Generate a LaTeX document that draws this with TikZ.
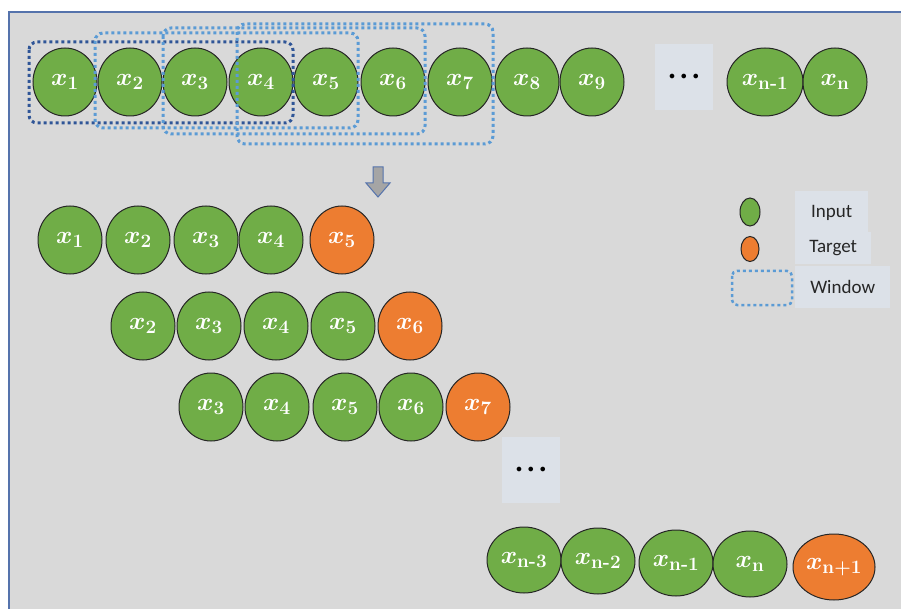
\documentclass[tikz,border=0pt]{standalone}
\usepackage{amsmath,bm}
\usepackage{fontspec}
\newfontfamily\legfont{Carlito}
\usetikzlibrary{shapes.geometric}

\definecolor{bggray}{HTML}{D9D9D9}
\definecolor{frameblue}{HTML}{5573AC}
\definecolor{cellgreen}{HTML}{70AD47}
\definecolor{cellorange}{HTML}{ED7D31}
\definecolor{windark}{HTML}{2F5597}
\definecolor{winlight}{HTML}{5B9BD5}
\definecolor{gapblue}{HTML}{DCE1E8}
\definecolor{arrowgray}{HTML}{A5A5A5}

\newcommand{\xv}[1]{$\bm{x}_{\text{\bfseries #1}}$}

\tikzset{
  cell/.style={ellipse, draw=black!85, line width=1pt, fill=cellgreen, text=white,
    inner sep=0pt, minimum width=64pt, minimum height=68pt,
    font=\fontsize{27}{30}\selectfont\boldmath},
  tgt/.style={cell, fill=cellorange},
  win/.style={draw=winlight, line width=3pt, dash pattern=on 3pt off 3pt, rounded corners=8pt},
  gap/.style={fill=gapblue, minimum width=58pt, minimum height=66pt, inner sep=0pt},
  legbox/.style={fill=gapblue, anchor=west, inner sep=0pt, text=black!85,
    font=\legfont\fontsize{19}{22}\selectfont}
}

\begin{document}
\begin{tikzpicture}[x=1pt,y=-1pt]
\useasboundingbox (0,0) rectangle (901,609);

% frame
\fill[white] (0,0) rectangle (901,609);
\fill[bggray] (9,12) rectangle (901,609);
\draw[frameblue, line width=1.5pt] (9,609) -- (9,12) -- (901,12);

% full sequence
\foreach \i/\x in {1/65,2/130,3/195,4/261,5/326,6/393,7/460,8/527,9/592}
  \node[cell] (t\i) at (\x,82) {\xv{\i}};
\node[gap] (tdots) at (684,77) {\large$\bullet\;\bullet\;\bullet$};
\node[cell, minimum width=76pt] (tn1) at (765,82) {\xv{n-1}};
\node[cell] (tn) at (835,82) {\xv{n}};

% sliding windows
\draw[win, draw=windark] (29,42) rectangle (293,123);
\draw[win] (95,33) rectangle (358,128);
\draw[win] (163,28) rectangle (425,134);
\draw[win] (237,24) rectangle (493,144);

% down arrow
\draw[frameblue, fill=arrowgray, line width=1pt]
  (373,167) -- (383,167) -- (383,183) -- (390,183) -- (378,197) -- (366,183) -- (373,183) -- cycle;

% samples
\foreach \k/\x in {1/70,2/138,3/206,4/271}
  \node[cell] (a\k) at (\x,240) {\xv{\k}};
\node[tgt] (a5) at (342,240) {\xv{5}};

\foreach \k/\x in {2/143,3/209,4/276,5/343}
  \node[cell] (b\k) at (\x,326) {\xv{\k}};
\node[tgt] (b6) at (410,326) {\xv{6}};

\foreach \k/\x in {3/211,4/277,5/345,6/411}
  \node[cell] (c\k) at (\x,407) {\xv{\k}};
\node[tgt] (c7) at (478,407) {\xv{7}};

\node[gap] (cdots) at (531,470) {\large$\bullet\;\bullet\;\bullet$};

\node[cell, minimum width=74pt, minimum height=66pt] (d1) at (524,560) {\xv{n-3}};
\node[cell, minimum width=74pt, minimum height=66pt] (d2) at (598,561) {\xv{n-2}};
\node[cell, minimum width=74pt, minimum height=66pt] (d3) at (676,563) {\xv{n-1}};
\node[cell, minimum width=74pt, minimum height=66pt] (d4) at (750,564) {\xv{n}};
\node[tgt, minimum width=82pt, minimum height=66pt] (d5) at (834,567) {\xv{n+1}};

% legend
\node[legbox, minimum width=73pt, minimum height=44pt] (linput) at (795,213) {Input};
\node[legbox, minimum width=76pt, minimum height=32pt] (ltarget) at (795,248) {Target};
\node[legbox, minimum width=95pt, minimum height=42pt] (lwindow) at (795,287) {Window};
\node[ellipse, draw=black!85, line width=1pt, fill=cellgreen, minimum width=20pt, minimum height=28pt, inner sep=0pt] (kinput) at (750,212) {};
\node[ellipse, draw=black!85, line width=1pt, fill=cellorange, minimum width=18pt, minimum height=25pt, inner sep=0pt] (ktarget) at (750,249) {};
\draw[win, line width=2.5pt, rounded corners=5pt] (732,271) rectangle (792,305);
\end{tikzpicture}
\end{document}
